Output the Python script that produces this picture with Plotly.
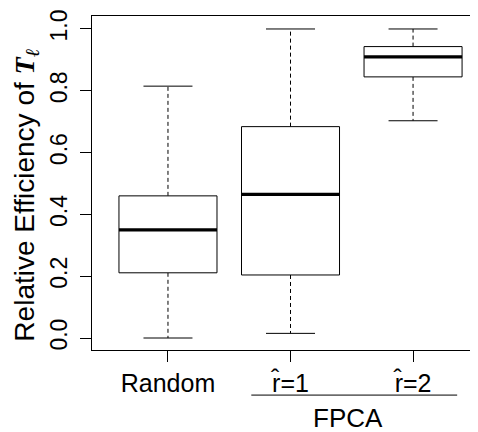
import plotly.graph_objects as go

# ---- data ----
categories = ["Random", "r\u0302=1", "r\u0302=2"]
lower_whisker = [0.0, 0.015, 0.703]
q1 = [0.211, 0.204, 0.845]
median = [0.350, 0.465, 0.910]
q3 = [0.460, 0.684, 0.943]
upper_whisker = [0.815, 1.0, 1.0]
y_ticks = [0.0, 0.2, 0.4, 0.6, 0.8, 1.0]
group_label = "FPCA"

BOX_HALF = 0.4
CAP_HALF = 0.2
FONT = "Liberation Sans, Arial, Helvetica, sans-serif"

fig = go.Figure()
pos = list(range(1, len(categories) + 1))

for i, p in enumerate(pos):
    # whiskers (dashed)
    fig.add_trace(go.Scatter(
        x=[p, p, None, p, p],
        y=[q3[i], upper_whisker[i], None, q1[i], lower_whisker[i]],
        mode="lines", line=dict(color="black", width=1, dash="4px,3px"),
        hoverinfo="skip", showlegend=False))
    # caps
    fig.add_trace(go.Scatter(
        x=[p - CAP_HALF, p + CAP_HALF, None, p - CAP_HALF, p + CAP_HALF],
        y=[upper_whisker[i], upper_whisker[i], None, lower_whisker[i], lower_whisker[i]],
        mode="lines", line=dict(color="black", width=1),
        hoverinfo="skip", showlegend=False))
    # box
    fig.add_trace(go.Scatter(
        x=[p - BOX_HALF, p + BOX_HALF, p + BOX_HALF, p - BOX_HALF, p - BOX_HALF],
        y=[q1[i], q1[i], q3[i], q3[i], q1[i]],
        mode="lines", line=dict(color="black", width=1),
        fill="toself", fillcolor="white",
        hoverinfo="skip", showlegend=False))
    # median
    fig.add_trace(go.Scatter(
        x=[p - BOX_HALF, p + BOX_HALF], y=[median[i], median[i]],
        mode="lines", line=dict(color="black", width=3.2),
        hoverinfo="skip", showlegend=False))

# page has an 8px body margin, so the figure is 470x424 placed at (8, 8)
fig.update_layout(
    width=470, height=424,
    margin=dict(l=84, r=0, t=8, b=82),
    paper_bgcolor="white", plot_bgcolor="white",
    font=dict(family=FONT, color="black", size=24),
    xaxis=dict(range=[0.38, 3.53], tickvals=pos, ticktext=categories,
               showline=True, linecolor="black", linewidth=1, mirror=True,
               ticks="outside", ticklen=11, tickcolor="black", tickwidth=1,
               showgrid=False, zeroline=False,
               tickfont=dict(size=25), ticklabelstandoff=0),
    yaxis=dict(range=[-0.0388, 1.042], tickvals=y_ticks,
               ticktext=[f"{v:.1f}" for v in y_ticks],
               showline=True, linecolor="black", linewidth=1, mirror=False,
               ticks="outside", ticklen=11, tickcolor="black", tickwidth=1,
               showgrid=False, zeroline=False, tickangle=-90,
               tickfont=dict(size=23), ticklabelstandoff=4),
)

# y-axis title
fig.add_annotation(
    text="Relative Efficiency of <span style='font-family:Liberation Serif, DejaVu Serif, serif'><b><i>T</i></b><sub><i>\u2113</i></sub></span>",
    xref="paper", yref="paper", x=-0.172, y=0.464, textangle=-90,
    showarrow=False, font=dict(size=28), xanchor="center", yanchor="middle")

# group line and label under FPCA categories
fig.add_shape(type="line", xref="x", yref="paper",
              x0=pos[1] - 0.32, x1=pos[2] + 0.36, y0=-0.135, y1=-0.135,
              line=dict(color="black", width=1))
fig.add_annotation(text=group_label, xref="x", yref="paper",
                   x=(pos[1] + pos[2]) / 2 - 0.03, y=-0.203,
                   showarrow=False, font=dict(size=26),
                   xanchor="center", yanchor="middle")

fig.write_html("out.html")
